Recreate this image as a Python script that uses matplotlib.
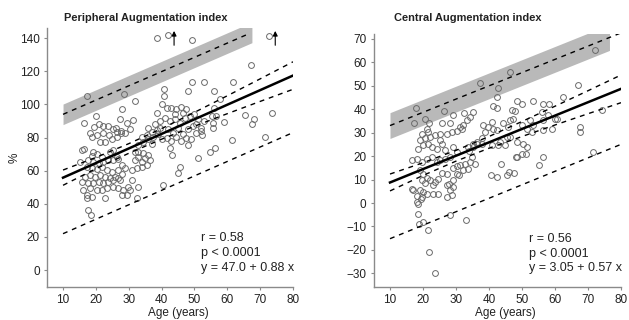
import matplotlib
matplotlib.use("Agg")
import matplotlib.pyplot as plt

plt.rcParams['font.family'] = ['Liberation Sans', 'DejaVu Sans']
plt.rcParams['text.color'] = '#222222'
plt.rcParams['xtick.labelcolor'] = '#222222'
plt.rcParams['ytick.labelcolor'] = '#222222'

# ---- Peripheral augmentation index (left) ----
p_age = [38.5, 42, 49.3, 72.8,
         17.2, 28.7, 31.9, 28, 20, 16.5, 27.3, 29.4, 31.2, 30.4,
         67.2, 49.3, 53, 61.8, 40.7, 40.7, 48, 56, 57.8,
         41.5, 43, 44.5, 46, 47.3, 40, 38.5, 56, 55.2, 56.5, 65.4, 68.2, 67.6, 73.7, 59.1, 55.5, 55.5,
         52, 53, 61.3, 52.2, 48, 71.5, 54.7, 56.3, 51.2, 45.6, 45.1, 42.6, 43.1, 40.5,
         41, 42.5, 44, 45.5, 47, 48.5, 50, 51, 42, 43.5, 45, 46.5, 48, 49.5, 50.5, 41.5, 43, 44.5,
         46, 47.5, 49, 50.5, 52, 44, 46.5,
         38, 39, 40, 37, 39.5, 36,
         18.2, 19.5, 20.8, 22.1, 23.6, 25.3, 26.5, 27.7, 18.7, 20.4, 22.3, 24.1, 21.3, 22.8, 24.8, 26.5,
         15.7, 19.2, 18.7, 20.2, 21.8, 17.7, 19.2, 20.8, 22.3, 23.8, 25.3, 26.8, 26.3, 24.3, 25.3, 15.2,
         17.2, 18.7, 20.2, 21.8, 23.3, 24.8, 18.2, 19.7, 21.3, 22.8, 24.3, 25.8, 16.7, 17.7, 19.2, 20.8,
         22.3, 23.8, 25.3, 26.8, 27.9, 27.3,
         16.2, 18.2, 20.2, 17.2, 18.7, 21.8, 23.3, 25.3, 26.8, 22.8, 17.7, 18.4, 17.4,
         28.4, 29.4, 30.4, 29.9, 27.9, 28.9, 26.8,
         31.9, 32.9, 33.9, 35, 36, 34.4, 32.9, 31.9, 35.5, 33.9, 32.4, 36.5, 30.9,
         32.9, 34.4, 36, 37.5, 37, 38.5, 39.5, 35.5, 33.9,
         30.9, 32.9, 27.9, 32.4, 15.7, 16.5, 26, 27.5, 29]
p_aix = [140, 142, 139, 141,
         105, 106, 102, 97, 93.3, 88.5, 91, 88.9, 90.3, 84.9,
         123.5, 113.6, 113.6, 113.6, 109, 105, 108, 108, 103,
         97.6, 98, 97, 98.5, 97, 100, 94.6, 98, 93, 93, 93.5, 91, 88, 95, 89.3, 88.7, 85.5,
         86, 90, 78.5, 81.5, 75.4, 80.4, 71.4, 73.4, 67.4, 62.4, 58.4, 73.4, 69.4, 51.3,
         92, 90, 91, 89, 92, 93, 94, 91, 85, 83, 86, 82, 85, 87, 83, 80, 78, 80.5,
         78, 80, 79, 88, 84, 94, 95,
         88, 82, 79, 76, 90, 86,
         82.5, 86.5, 87.9, 86.9, 87.1, 84.9, 83.5, 82.5, 80.5, 81.5, 82.5, 81.5, 77.5, 77.5, 78.9, 80.1,
         72.4, 71.4, 68.8, 70, 68, 66.4, 65.4, 64.4, 65.4, 66.4, 66.4, 66.8, 68, 71.4, 72.4, 65.4,
         62.4, 61.4, 60.8, 62, 60.4, 59.4, 57.3, 56.3, 57.3, 55.9, 55.3, 56.3, 56.3, 52.3, 52.3, 53.3,
         52.3, 53.3, 54.3, 55.3, 58.3, 54.3,
         48.3, 49.3, 48.3, 45.3, 44.3, 48.3, 49.3, 50.3, 49.3, 43.3, 36.2, 33.2, 43.3,
         48.3, 45.3, 48.3, 50.3, 63.4, 61.4, 60.4,
         66.4, 68.4, 65.4, 67.4, 69.4, 70.4, 71.4, 71.4, 63.4, 62.4, 61.4, 66.4, 60.4,
         75.4, 77.5, 78.9, 80.5, 83.5, 84.5, 85.5, 81.5, 80.5,
         54.3, 50.3, 45.3, 43.3, 53.3, 73, 85.5, 84, 83]
p_arrow_x = [43.8, 74.6]

# fit, confidence band and prediction limits
p_a, p_b = 47.0, 0.88
ci_x = [10, 20, 30, 40, 50, 60, 70, 80]
p_ci = [4.6, 3.4, 2.9, 3.2, 4.2, 5.4, 6.8, 8.3]
p_pred_x = [10, 80]
p_pred_lo = [22, 83]
p_pred_hi_x = [10, 67]
p_pred_hi = [94, 143]
p_band_x = [10, 67.5]
p_band_half = 6.2

# ---- Central augmentation index (right) ----
c_age = [17.9, 26.3, 29.2, 32.5, 35.3, 37.3, 46.4, 42.8, 42.5, 41.1, 42.3, 72.2,
         17.4, 20.6, 21.8, 21.1, 25.7, 28.2, 31.2, 32.2,
         19.6, 21.4, 19.1, 20.6, 22.1, 23.6, 25.2, 27.2, 28.7, 30.2, 31.7,
         18.6, 20.1, 21.4, 22.6, 24.1, 25.2, 25.7, 26.7, 29.2, 30.2,
         16.6, 18.1, 19.6, 21.1, 22.6, 24.1, 25.2, 26.7, 28.2,
         19.1, 20.1, 21.1, 19.6, 20.6, 22.1, 23.6, 24.6, 25.7, 27.2, 29.2, 30.2, 31.2, 32.7, 34.2,
         32.2, 33.7, 34.7, 35.3, 36.3, 37.8, 38.8, 39.8, 38.3, 40.8,
         17.1, 19.1, 20.1, 21.1, 18.1, 19.4, 23.1, 24.6, 27.2, 28.2, 28.7, 27.2, 30.2, 29.2,
         18.6, 18.1, 18.6, 18.8, 20.1, 21.6, 28.2, 33, 21.8, 23.6,
         35.8, 31, 40.6, 42.3, 43.6, 45.4, 46.1, 47.6, 48.1, 55, 56.5, 71.4,
         48.4, 50.1, 53.4, 56.5, 58.3, 62.5, 67.1,
         46.9, 47.9, 47.4,
         56, 58, 60, 56.5, 52.4, 53.4, 49.9, 46.4, 44.3, 41.3, 42.3, 45.9, 51.4,
         52.9, 56.5, 59, 60.5, 67.6, 67.6, 74.1,
         46.4, 48.4, 50.4, 51.4, 44.8, 42.8, 40.8, 45.4,
         48.4, 33.5, 35, 36.5, 34, 37.8, 43.3, 49.9, 51.2, 34.2, 33.2,
         16.8, 23, 19.6, 29, 27.8]
c_aix = [40.3, 39, 37.4, 38.4, 38.9, 51.2, 55.7, 48.8, 45.2, 41.3, 40.3, 65.4,
         33.9, 35.6, 33.9, 31.7, 33.9, 33.9, 32.2, 33.2,
         29.6, 30.3, 26.8, 27.5, 28.2, 28.9, 29.6, 29.6, 30.3, 30.7, 31.7,
         23.2, 24.6, 25.3, 23.9, 23.2, 26.8, 25.3, 22.5, 23.9, 21.8,
         18.2, 18.9, 17.5, 18.9, 19.7, 17.5, 18.2, 18.9, 19.7,
         14, 12.5, 10.8, 9.7, 8.6, 9.7, 9, 10.4, 12.8, 12.5, 15.1, 15.7, 16.1, 16.8, 17.5,
         14, 14.7, 19.7, 23.9, 25.3, 27.5, 30.3, 32.5, 33.2, 34.6,
         5.4, 5.7, 4.7, 4, 2.9, 1.9, 3.7, 4, 7.6, 5.4, 3.3, 2.6, 12.5, 10,
         -0.3, 0.3, -4.8, -9.1, -8.1, -11.6, -5.2, -7.4, -20.9, -29.9,
         16.8, 11.8, 11.8, 11.1, 16.8, 11.8, 13.2, 12.8, 19.4, 16.1, 19.4, 21.8,
         43.5, 42.4, 43.4, 42.4, 42.4, 45.2, 50.2,
         39.6, 39.3, 36,
         38.9, 37.4, 36, 35.3, 35.3, 33.2, 33.2, 35.3, 33.9, 31.7, 31, 32.5, 31.7,
         30.3, 31, 31.7, 35.6, 32.4, 30.3, 39.6,
         28.2, 26.1, 25.3, 23.9, 24.6, 24.6, 24.6, 28.2,
         19.6, 24, 25, 26, 22, 25.3, 26, 21.1, 21.1, 36.7, 35.3,
         6.1, 7.5, 2.6, 6.8, 8.3]

c_a, c_b = 3.05, 0.57
c_ci = [3.6, 2.7, 2.3, 2.5, 3.2, 4.0, 4.9, 5.9]
c_pred_lo = [-15.2, 25]
c_pred_hi_x = [10, 80]
c_pred_hi = [33, 72.5]
c_band_x = [10, 76.5]
c_band_half = 5.5

DOT = '#6a6a6a'
BAND = '#b9b9b9'
SPINE = '#8a8a8a'
DASH = (0, (3.5, 3.5))


def draw(ax, age, aix, a, b, ci, pred_lo, pred_hi_x, pred_hi, band_x, band_half, ylim, yticks):
    # grey band round the upper prediction limit
    slope = (pred_hi[1] - pred_hi[0]) / (pred_hi_x[1] - pred_hi_x[0])
    by = [pred_hi[0] + slope * (bx - pred_hi_x[0]) for bx in band_x]
    ax.fill_between(band_x, [v - band_half for v in by], [v + band_half for v in by],
                    color=BAND, lw=0, zorder=1)
    ax.plot(pred_hi_x, pred_hi, color='black', lw=1.0, ls=DASH, zorder=3)
    ax.plot(p_pred_x, pred_lo, color='black', lw=1.0, ls=DASH, zorder=3)

    fit = [a + b * x for x in ci_x]
    ax.plot(ci_x, [f + c for f, c in zip(fit, ci)], color='black', lw=1.0, ls=DASH, zorder=3)
    ax.plot(ci_x, [f - c for f, c in zip(fit, ci)], color='black', lw=1.0, ls=DASH, zorder=3)
    ax.plot([10, 80], [a + b * 10, a + b * 80], color='black', lw=1.8, zorder=4)

    ax.plot(age, aix, ls='none', marker='o', ms=4.2, mfc='none', mec=DOT, mew=0.7, zorder=2)

    ax.set_xlim(5, 80)
    ax.set_ylim(*ylim)
    ax.set_xticks(range(10, 81, 10))
    ax.set_yticks(yticks)
    for s in ['top', 'right']:
        ax.spines[s].set_visible(False)
    for s in ['left', 'bottom']:
        ax.spines[s].set_color(SPINE)
        ax.spines[s].set_linewidth(1.0)
    ax.tick_params(length=2, width=0.8, color=SPINE, labelsize=8.5, pad=3)
    ax.text(45, ylim[0] - (ylim[1] - ylim[0]) * 0.103, 'Age (years)', ha='center', va='center',
            fontsize=8.5)


fig = plt.figure(figsize=(6.29, 3.20), dpi=100)
ax1 = fig.add_axes([0.0741, 0.104, 0.3917, 0.808])
ax2 = fig.add_axes([0.5938, 0.103, 0.3935, 0.7906])

draw(ax1, p_age, p_aix, p_a, p_b, p_ci, p_pred_lo, p_pred_hi_x, p_pred_hi, p_band_x, p_band_half,
     (-10, 146), range(0, 141, 20))
draw(ax2, c_age, c_aix, c_a, c_b, c_ci, c_pred_lo, c_pred_hi_x, c_pred_hi, c_band_x, c_band_half,
     (-35.8, 72), range(-30, 71, 10))

# arrows for values off the scale
for ax_x in p_arrow_x:
    ax1.annotate('', xy=(ax_x, 146), xytext=(ax_x, 134),
                 arrowprops=dict(arrowstyle='-|>', color='black', lw=0.8, mutation_scale=7))

fig.text(0.024, 0.506, '%', rotation=90, ha='center', va='center', fontsize=8.5)

stats = [('r = 0.58', 'p < 0.0001', 'y = 47.0 + 0.88 x'),
         ('r = 0.56', 'p < 0.0001', 'y = 3.05 + 0.57 x')]
for ax, lines in zip([ax1, ax2], stats):
    for i, t in enumerate(lines):
        ax.text(0.627, 0.19 - i * 0.058, t, transform=ax.transAxes, ha='left', va='center',
                fontsize=9)

fig.text(0.232, 0.944, 'Peripheral Augmentation index', ha='center', va='center',
         fontsize=7.9, fontweight='bold')
fig.text(0.744, 0.944, 'Central Augmentation index', ha='center', va='center',
         fontsize=7.9, fontweight='bold')

fig.savefig('out.png', dpi=100)
